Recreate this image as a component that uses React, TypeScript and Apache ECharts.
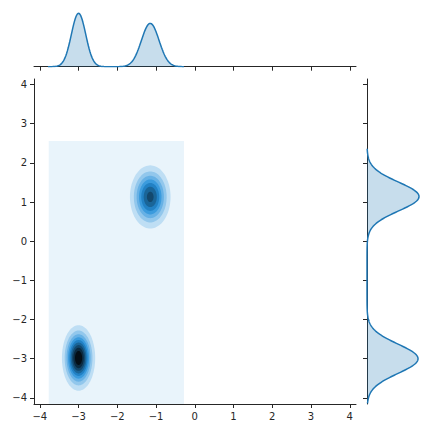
import React, { useEffect, useRef } from "react";
import * as echarts from "echarts";

// axis ticks and ranges
const xTicks = [-4, -3, -2, -1, 0, 1, 2, 3, 4];
const yTicks = [-4, -3, -2, -1, 0, 1, 2, 3, 4];
const xRange = [-4.15, 4.16];
const yRange = [-4.155, 4.14];

// 2D KDE clusters
const blobCenterX = [-3.0, -1.15];
const blobCenterY = [-2.98, 1.13];
const blobSigmaX = [0.2, 0.262];
const blobSigmaY = [0.39, 0.403];
const blobWeight = [0.5, 0.5];
const kdeGridX = [-3.77, -0.28];
const kdeGridY = [-4.41, 2.56];
const contourBands = 10;

// marginal x KDE
const margXCenters = [-3.0, -1.15];
const margXSigmas = [0.185, 0.228];
const margXWeights = [0.5, 0.5];
const margXSupport = [-3.79, -0.28];
const margXMax = 1.306;

// marginal y KDE
const margYCenters = [1.14, -3.0];
const margYSigmas = [0.368, 0.375];
const margYWeights = [0.5, 0.5];
const margYSupport = [-4.22, 2.36];
const margYMax = 0.667;

const C0 = "#1f77b4";
const INK = "#262626";
const FONT = "DejaVu Sans";

function gauss1d(x: number, cs: number[], ss: number[], ws: number[]) {
  let s = 0;
  for (let i = 0; i < cs.length; i++) {
    const z = (x - cs[i]) / ss[i];
    s += (ws[i] / (ss[i] * Math.sqrt(2 * Math.PI))) * Math.exp(-0.5 * z * z);
  }
  return s;
}

function sampleCurve(support: number[], cs: number[], ss: number[], ws: number[], lo: number, hi: number) {
  const pts: number[][] = [];
  const n = Math.round((support[1] - support[0]) / 0.02);
  for (let i = 0; i <= n; i++) {
    const v = support[0] + ((support[1] - support[0]) * i) / n;
    if (v < lo || v > hi) continue;
    pts.push([v, gauss1d(v, cs, ss, ws)]);
  }
  return pts;
}

function hlsColor(h: number, l: number, s: number) {
  const c = (1 - Math.abs(2 * l - 1)) * s;
  const hp = h / 60;
  const x = c * (1 - Math.abs((hp % 2) - 1));
  let r = 0, g = 0, b = 0;
  if (hp < 1) [r, g, b] = [c, x, 0];
  else if (hp < 2) [r, g, b] = [x, c, 0];
  else if (hp < 3) [r, g, b] = [0, c, x];
  else if (hp < 4) [r, g, b] = [0, x, c];
  else if (hp < 5) [r, g, b] = [x, 0, c];
  else [r, g, b] = [c, 0, x];
  const m = l - c / 2;
  const f = (v: number) => Math.round(Math.min(1, Math.max(0, v + m)) * 255);
  return `rgb(${f(r)},${f(g)},${f(b)})`;
}

function bandColor(k: number) {
  const t = (k + 0.5) / contourBands;
  return hlsColor(204.6, 1 - t, 0.706);
}

const fmt = (v: number) => (v < 0 ? "\u2212" + Math.abs(v) : String(v));

export default function App() {
  const ref = useRef<HTMLDivElement>(null);
  useEffect(() => {
    if (!ref.current) return;
    const chart = echarts.init(ref.current, null, { renderer: "svg" });

    const peaks = blobWeight.map((w, i) => w / (2 * Math.PI * blobSigmaX[i] * blobSigmaY[i]));
    const maxPeak = Math.max(...peaks);
    const step = maxPeak / contourBands;
    const kdeItems: number[][] = [[-1, 0]];
    for (let k = 1; k < contourBands; k++) {
      for (let j = 0; j < peaks.length; j++) {
        if (peaks[j] > k * step) kdeItems.push([j, k]);
      }
    }

    const topCurve = sampleCurve(margXSupport, margXCenters, margXSigmas, margXWeights, xRange[0], xRange[1]);
    const rightCurve = sampleCurve(margYSupport, margYCenters, margYSigmas, margYWeights, yRange[0], yRange[1]);

    const tickStyle = { show: true, length: 4, lineStyle: { color: INK, width: 1 } };
    const lineStyle = { show: true, onZero: false, lineStyle: { color: INK, width: 1 } };
    const labelStyle = { fontFamily: FONT, fontSize: 10, color: INK };

    chart.setOption({
      animation: false,
      backgroundColor: "#ffffff",
      grid: [
        { left: 34, top: 79, width: 322, height: 325 },
        { left: 34, top: 2, width: 322, height: 64.7 },
        { left: 367, top: 79, width: 64, height: 325 },
      ],
      xAxis: [
        {
          gridIndex: 0, type: "value", min: xRange[0], max: xRange[1],
          axisLine: lineStyle,
          axisTick: { ...tickStyle, customValues: xTicks },
          axisLabel: { ...labelStyle, margin: 7, customValues: xTicks, formatter: fmt },
          splitLine: { show: false },
        },
        {
          gridIndex: 1, type: "value", min: xRange[0], max: xRange[1],
          axisLine: lineStyle,
          axisTick: { ...tickStyle, customValues: xTicks },
          axisLabel: { show: false },
          splitLine: { show: false },
        },
        {
          gridIndex: 2, type: "value", min: 0, max: margYMax, show: false,
          splitLine: { show: false },
        },
      ],
      yAxis: [
        {
          gridIndex: 0, type: "value", min: yRange[0], max: yRange[1],
          axisLine: lineStyle,
          axisTick: { ...tickStyle, customValues: yTicks },
          axisLabel: { ...labelStyle, margin: 7, customValues: yTicks, formatter: fmt },
          splitLine: { show: false },
        },
        {
          gridIndex: 1, type: "value", min: 0, max: margXMax, show: false,
          splitLine: { show: false },
        },
        {
          gridIndex: 2, type: "value", min: yRange[0], max: yRange[1],
          axisLine: lineStyle,
          axisTick: { ...tickStyle, customValues: yTicks },
          axisLabel: { show: false },
          splitLine: { show: false },
        },
      ],
      series: [
        {
          type: "custom",
          xAxisIndex: 0,
          yAxisIndex: 0,
          data: kdeItems,
          silent: true,
          renderItem: (params: any, api: any) => {
            const j = api.value(0);
            const k = api.value(1);
            if (j < 0) {
              const p0 = api.coord([kdeGridX[0], kdeGridY[1]]);
              const p1 = api.coord([kdeGridX[1], Math.max(kdeGridY[0], yRange[0])]);
              return {
                type: "rect",
                shape: { x: p0[0], y: p0[1], width: p1[0] - p0[0], height: p1[1] - p0[1] },
                style: { fill: bandColor(0) },
              };
            }
            const r = Math.sqrt(2 * Math.log(peaks[j] / (k * step)));
            const pts: number[][] = [];
            for (let a = 0; a < 96; a++) {
              const th = (a / 96) * Math.PI * 2;
              pts.push(
                api.coord([
                  blobCenterX[j] + r * blobSigmaX[j] * Math.cos(th),
                  blobCenterY[j] + r * blobSigmaY[j] * Math.sin(th),
                ])
              );
            }
            return { type: "polygon", shape: { points: pts }, style: { fill: bandColor(k) } };
          },
        },
        {
          type: "line",
          xAxisIndex: 1,
          yAxisIndex: 1,
          data: topCurve,
          showSymbol: false,
          symbol: "none",
          lineStyle: { color: C0, width: 1.5 },
          areaStyle: { color: C0, opacity: 0.25 },
          silent: true,
        },
        {
          type: "custom",
          xAxisIndex: 2,
          yAxisIndex: 2,
          data: [[0, 0]],
          silent: true,
          renderItem: (params: any, api: any) => {
            const curve = rightCurve.map((p) => api.coord([p[1], p[0]]));
            const first = api.coord([0, rightCurve[0][0]]);
            const last = api.coord([0, rightCurve[rightCurve.length - 1][0]]);
            return {
              type: "group",
              children: [
                {
                  type: "polygon",
                  shape: { points: [first, ...curve, last] },
                  style: { fill: C0, opacity: 0.25 },
                },
                {
                  type: "polyline",
                  shape: { points: curve },
                  style: { stroke: C0, lineWidth: 1.5, fill: null },
                },
              ],
            };
          },
        },
      ],
    });
    return () => chart.dispose();
  }, []);
  return <div ref={ref} style={{ position: "fixed", left: 0, top: 0, width: 432, height: 432 }} />;
}
